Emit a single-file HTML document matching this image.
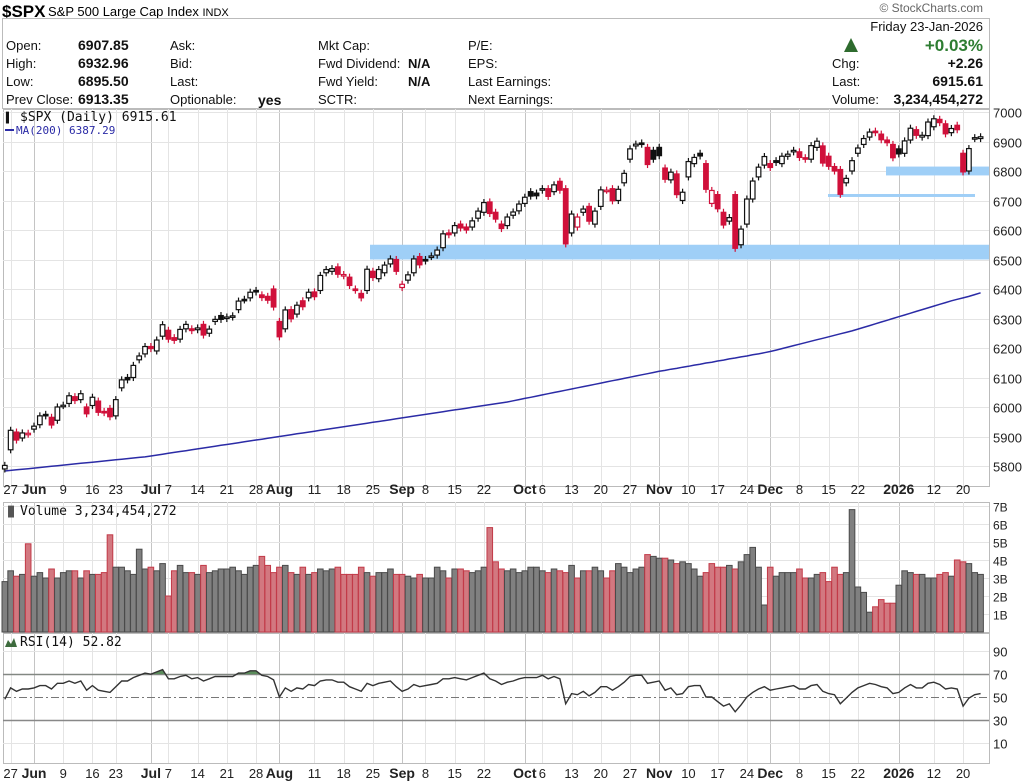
<!DOCTYPE html>
<html><head><meta charset="utf-8">
<style>
html,body{margin:0;padding:0;background:#fff;}
svg{display:block;font-family:"Liberation Sans",sans-serif;}
.mono{font-family:"DejaVu Sans Mono","Liberation Mono",monospace;}
</style></head>
<body>
<svg id="chart" width="1023" height="784" viewBox="0 0 1023 784" xmlns="http://www.w3.org/2000/svg">
  <g>
    <text x="2" y="17" font-size="17" font-weight="bold">$SPX</text>
    <text x="48" y="16" font-size="13">S&amp;P 500 Large Cap Index <tspan font-size="11">INDX</tspan></text>
    <text x="983" y="12" font-size="12" fill="#666" text-anchor="end">© StockCharts.com</text>
    <rect x="2.5" y="18.5" width="987" height="90" fill="none" stroke="#bbb"/>
    <g font-size="13" fill="#111">
      <text x="6" y="50">Open:</text><text x="78" y="50" font-weight="bold" font-size="14">6907.85</text>
      <text x="6" y="68">High:</text><text x="78" y="68" font-weight="bold" font-size="14">6932.96</text>
      <text x="6" y="86">Low:</text><text x="78" y="86" font-weight="bold" font-size="14">6895.50</text>
      <text x="6" y="104">Prev Close:</text><text x="78" y="104" font-weight="bold" font-size="14">6913.35</text>
      <text x="170" y="50">Ask:</text><text x="170" y="68">Bid:</text><text x="170" y="86">Last:</text>
      <text x="170" y="104">Optionable:</text><text x="258" y="105" font-weight="bold" font-size="14">yes</text>
      <text x="318" y="50">Mkt Cap:</text>
      <text x="318" y="68">Fwd Dividend:</text><text x="408" y="68" font-weight="bold">N/A</text>
      <text x="318" y="86">Fwd Yield:</text><text x="408" y="86" font-weight="bold">N/A</text>
      <text x="318" y="104">SCTR:</text>
      <text x="468" y="50">P/E:</text><text x="468" y="68">EPS:</text>
      <text x="468" y="86">Last Earnings:</text><text x="468" y="104">Next Earnings:</text>
      <text x="983" y="31" text-anchor="end">Friday  23-Jan-2026</text>
      <text x="983" y="51" text-anchor="end" font-size="17" font-weight="bold" fill="#2e7d32">+0.03%</text>
      <text x="832" y="68">Chg:</text><text x="983" y="68" text-anchor="end" font-weight="bold" font-size="14">+2.26</text>
      <text x="832" y="86">Last:</text><text x="983" y="86" text-anchor="end" font-weight="bold" font-size="14">6915.61</text>
      <text x="832" y="104">Volume:</text><text x="983" y="104" text-anchor="end" font-weight="bold" font-size="14">3,234,454,272</text>
    </g>
    <polygon points="844,52 851,38 858,52" fill="#2e6b2e"/>
  </g>
  <g id="grid"></g>
  <g id="bands"></g>
  <g id="marks"></g>
  <g id="axes"></g>
</svg>
<script>
const dates = ["May23","May27","May28","May29","May30"];
const closes = [5802,5921,5888,5912,5911,
5935,5970,5970,5939,6000,6006,6038,6022,6045,5977,6033,5982,5981,5967,6025,6092,6092,6141,6173,6205,
6198,6227,6279,6230,6226,6263,6280,6259,6268,6244,6264,6297,6297,6305,6309,6359,6363,6389,6390,6371,6362,6339,
6238,6329,6299,6345,6340,6389,6374,6446,6466,6469,6450,6449,6412,6396,6370,6467,6439,6466,6481,6502,6460,
6416,6448,6502,6482,6495,6512,6532,6587,6584,6615,6607,6600,6631,6664,6693,6656,6637,6605,6644,6661,6688,
6711,6715,6716,6740,6714,6753,6735,6553,6654,6644,6671,6630,6664,6736,6735,6699,6738,6792,6875,6891,6891,6822,6840,
6852,6772,6796,6720,6728,6832,6846,6851,6738,6734,6672,6617,6642,6538,6603,6705,6766,6813,6849,
6812,6829,6850,6857,6870,6846,6840,6886,6901,6827,6816,6800,6721,6775,6835,6878,6910,6932,6930,6906,6896,6845,
6858,6902,6945,6921,6921,6966,6977,6964,6926,6944,6940,6797,6876,6913,6916];
const opens = [5790,5855,5915,5895,5908,
5925,5940,5975,5965,5955,6005,6012,6035,6025,6000,6005,6020,5985,5995,5970,6065,6100,6100,6160,6180,
6205,6190,6240,6260,6235,6230,6265,6265,6262,6280,6250,6290,6310,6300,6305,6330,6365,6370,6395,6380,6375,6400,
6290,6265,6330,6315,6360,6370,6390,6395,6455,6460,6475,6445,6440,6400,6385,6395,6460,6435,6455,6485,6500,
6405,6430,6455,6510,6500,6510,6515,6540,6590,6590,6620,6610,6610,6640,6660,6695,6660,6620,6615,6650,6665,
6690,6730,6725,6735,6740,6730,6765,6740,6590,6610,6660,6680,6620,6680,6735,6740,6700,6760,6840,6885,6895,6880,6870,
6880,6810,6770,6790,6700,6780,6825,6860,6825,6690,6720,6660,6630,6720,6550,6620,6705,6780,6820,
6825,6835,6825,6850,6865,6865,6845,6840,6880,6885,6850,6815,6805,6760,6800,6860,6890,6915,6935,6925,6905,6890,
6875,6860,6905,6940,6915,6920,6950,6975,6960,6930,6955,6860,6800,6910,6910];
const ma200 = [5783,5785,5787,5789,5791,5793,5795,5797,5799,5801,5803,5805,5807,5809,5811,5813,5815,5817,5819,5821,5823,5825,5827,5829,5831,
5834,5837,5840,5843,5846,5849,5852,5855,5858,5861,5864,5867,5870,5873,5876,5879,5882,5885,5888,5891,5894,5897,
5900,5903,5906,5909,5912,5915,5918,5921,5924,5927,5930,5933,5936,5939,5942,5945,5948,5951,5954,5957,5960,
5963,5966,5969,5972,5975,5978,5981,5984,5987,5990,5993,5996,5999,6002,6005,6008,6011,6014,6017,6021,6025,
6029,6033,6037,6041,6045,6049,6053,6057,6061,6065,6069,6073,6077,6081,6085,6089,6093,6097,6101,6105,6109,6113,6117,
6121,6124,6128,6131,6135,6138,6142,6145,6149,6152,6156,6159,6163,6166,6170,6173,6177,6180,6184,
6188,6193,6198,6203,6208,6213,6218,6223,6228,6233,6238,6243,6248,6253,6258,6264,6270,6276,6282,6288,6294,6300,
6306,6312,6318,6324,6330,6336,6342,6348,6354,6360,6365,6370,6375,6381,6387];
const volumes = [2.8,3.4,3.1,3.2,4.9,
3.1,3.3,3.0,3.5,3.0,3.3,3.4,3.4,3.0,3.4,3.2,3.2,3.3,5.4,3.6,3.6,3.4,3.2,4.6,3.5,
3.6,3.4,3.8,2.0,3.4,3.7,3.3,3.3,3.2,3.7,3.3,3.4,3.5,3.5,3.6,3.4,3.2,3.6,3.7,4.2,3.7,3.3,
3.6,3.7,3.3,3.2,3.6,3.2,3.3,3.5,3.4,3.5,3.6,3.2,3.2,3.2,3.6,3.3,3.1,3.3,3.3,3.5,3.2,
3.2,3.1,3.0,3.2,3.0,3.0,3.6,3.4,3.0,3.5,3.5,3.4,3.3,3.4,3.6,5.8,3.9,3.5,3.4,3.5,3.3,
3.4,3.6,3.6,3.4,3.3,3.5,3.4,3.3,3.7,3.0,3.4,3.4,3.6,3.4,3.0,3.4,3.8,3.6,3.3,3.5,3.6,4.3,4.2,
4.1,4.1,4.0,3.8,3.9,3.8,3.5,3.1,3.3,3.8,3.6,3.6,3.7,3.5,3.9,4.3,4.7,3.6,1.5,
3.6,3.1,3.3,3.3,3.3,3.5,3.0,3.0,3.2,3.3,2.8,3.6,3.2,3.3,6.8,2.5,2.2,1.1,1.4,1.8,1.6,1.6,
2.6,3.4,3.3,3.2,3.2,3.0,3.0,3.2,3.3,3.1,4.0,3.9,3.8,3.3,3.2];
const rsi = [48,58,55,57,57,
58,60,60,57,62,62,64,62,64,56,60,56,55,54,59,64,64,67,69,71,
70,72,74,66,66,68,69,66,67,64,66,68,68,68,68,71,71,73,73,69,68,65,
50,58,55,58,57,61,60,64,65,65,63,63,59,57,55,62,60,62,63,64,59,
55,57,61,59,60,61,62,66,66,67,66,65,67,69,71,66,64,61,63,64,66,
67,67,67,69,66,68,66,44,53,52,55,51,54,59,59,56,59,63,68,69,69,62,63,
64,56,58,52,53,59,60,60,50,50,46,42,44,37,43,50,54,57,59,
56,57,58,59,60,57,57,60,61,55,53,52,44,49,54,58,60,62,61,59,58,53,
54,58,61,58,58,62,63,61,57,58,57,42,49,52,53];
const priceTicks = [5800,5900,6000,6100,6200,6300,6400,6500,6600,6700,6800,6900,7000];
const volTicks = [1,2,3,4,5,6,7];
const rsiTicks = [10,30,50,70,90];
const xLabels = ["27","Jun","9","16","23","Jul","7","14","21","28","Aug","11","18","25","Sep","8","15","22","Oct","6","13","20","27","Nov","10","17","24","Dec","8","15","22","2026","12","20"];
const xLabelIdx = [1,5,10,15,19,25,28,33,38,43,47,53,58,63,68,72,77,82,89,92,97,102,107,112,117,122,127,131,136,141,146,153,159,164];
const monthLabels = ["Jun","Jul","Aug","Sep","Oct","Nov","Dec","2026"];

const NS="http://www.w3.org/2000/svg";
const L=3, R=989;
const P={top:109,bot:486}, V={top:502,bot:632}, RS={top:633,bot:763};
const xOf=i=>4.8+i*5.843;
const yP=v=>112+(7000-v)*0.295;
const yV=v=>632-v*18;
const yR=v=>754-v*1.14;
function mk(tag,attrs,parent){const e=document.createElementNS(NS,tag);for(const k in attrs)e.setAttribute(k,attrs[k]);parent.appendChild(e);return e;}
const grid=document.getElementById('grid'),marks=document.getElementById('marks'),axes=document.getElementById('axes'),bands=document.getElementById('bands');

[[P,'price-panel'],[V,'volume-panel'],[RS,'rsi-panel']].forEach(([p,n])=>{
  const r=mk('rect',{x:L+.5,y:p.top+.5,width:R-L,height:p.bot-p.top,fill:'#fff',stroke:'#bbb'},grid);
  
  
});
xLabelIdx.forEach((idx,k)=>{
  const x=Math.round(xOf(idx))+.5, m=monthLabels.includes(xLabels[k]);
  [P,V,RS].forEach(p=>{
    const l=mk('line',{x1:x,x2:x,y1:p.top,y2:p.bot,stroke:m?'#c4c4c4':'#e4e4e4','stroke-width':1},grid);
    
    
  });
  [[494,'x-label-top'],[778,'x-label-bottom']].forEach(([y,n])=>{
    const t=mk('text',{x:xOf(idx),y:y,'font-size':m?14:13,'font-weight':m?'bold':'normal','text-anchor':'middle',fill:'#222'},axes);
    t.textContent=xLabels[k];
    
    
  });
});
priceTicks.forEach(v=>{
  const y=Math.round(yP(v))+.5;
  const l=mk('line',{x1:L,x2:R,y1:y,y2:y,stroke:'#e4e4e4'},grid);
  
  
  const t=mk('text',{x:993,y:y+5,'font-size':13,fill:'#222'},axes);
  t.textContent=v;
  
  
});
volTicks.forEach(v=>{
  const y=Math.round(yV(v))+.5;
  const l=mk('line',{x1:L,x2:R,y1:y,y2:y,stroke:'#e4e4e4'},grid);
  
  
  const t=mk('text',{x:993,y:y+5,'font-size':12,fill:'#222'},axes);
  t.textContent=v+'B';
  
  
});
rsiTicks.forEach(v=>{
  const y=Math.round(yR(v))+.5;
  const ref=(v===70||v===30), mid=v===50;
  const l=mk('line',{x1:L,x2:R,y1:y,y2:y,stroke:ref?'#888':(mid?'#777':'#e4e4e4'),'stroke-width':ref?1.5:1,'stroke-dasharray':mid?'8,3,2,3':'none'},grid);
  
  
  const t=mk('text',{x:993,y:y+5,'font-size':13,fill:'#222'},axes);
  t.textContent=v;
  
  
});
const bandData=[[370,R,6550,6500],[886,R,6815,6785],[828,975,6722,6712]];
bandData.forEach(b=>{
  const r=mk('rect',{x:b[0],y:yP(b[2]),width:b[1]-b[0],height:yP(b[3])-yP(b[2]),fill:'#9fcff7'},bands);
  
  
});
let d='';ma200.forEach((v,i)=>{d+=(i?'L':'M')+xOf(i).toFixed(1)+','+yP(v).toFixed(1);});
const ma=mk('path',{d:d,fill:'none',stroke:'#2b2ba6','stroke-width':1.5},marks);


closes.forEach((c,i)=>{
  const o=opens[i], prev=i?closes[i-1]:o;
  const down=c<prev, col=down?'#d0103a':'#111', hollow=c>=o;
  const x=xOf(i), hi=Math.max(o,c)+12, lo=Math.min(o,c)-12;
  const g=mk('g',{},marks);
  
  
  mk('line',{x1:x,x2:x,y1:yP(hi),y2:yP(lo),stroke:col,'stroke-width':1.2},g);
  const top=yP(Math.max(o,c)), h=Math.max(1.5,yP(Math.min(o,c))-top);
  mk('rect',{x:x-2.3,y:top,width:4.6,height:h,fill:hollow?'#fff':col,stroke:col,'stroke-width':1.2},g);
});
volumes.forEach((v,i)=>{
  const down=i&&closes[i]<closes[i-1];
  const r=mk('rect',{x:xOf(i)-2.8,y:yV(v),width:5.6,height:632-yV(v),fill:down?'#d27880':'#808080',stroke:down?'#c23a48':'#4a4a4a','stroke-width':1},marks);
  
  
});
let rd='';rsi.forEach((v,i)=>{rd+=(i?'L':'M')+xOf(i).toFixed(1)+','+yR(v).toFixed(1);});
const defs=mk('defs',{},marks);
const cp=mk('clipPath',{id:'ob'},defs);
mk('rect',{x:0,y:RS.top,width:1023,height:yR(70)-RS.top},cp);
const fillP=mk('path',{d:rd+'L'+xOf(rsi.length-1)+','+yR(70)+'L'+xOf(0)+','+yR(70)+'Z',fill:'#5b8c5b','clip-path':'url(#ob)'},marks);


const rl=mk('path',{d:rd,fill:'none',stroke:'#333','stroke-width':1.4},marks);


function txt(x,y,s,cls,fs,fill,name){const t=mk('text',{x:x,y:y,'font-size':fs,fill:fill,class:cls},axes);t.textContent=s;}
txt(20,121,'$SPX (Daily) 6915.61','mono',13,'#111','price-legend');
txt(6,121,'\u258C','mono',10,'#111','price-legend-icon');
txt(16,134,'MA(200) 6387.29','mono',11,'#2b2ba6','ma-legend');
mk('line',{x1:5,x2:14,y1:130,y2:130,stroke:'#2b2ba6','stroke-width':2},axes);
txt(20,515,'Volume 3,234,454,272','mono',13,'#111','volume-legend');
txt(5,515,'\u2590\u258C','mono',10,'#555','volume-legend-icon');
txt(20,646,'RSI(14) 52.82','mono',13,'#111','rsi-legend');
mk('path',{d:'M5,647 L8,640 L11,644 L14,638 L17,647Z',fill:'#3d6b3d'},axes);
</script>
</body></html>
